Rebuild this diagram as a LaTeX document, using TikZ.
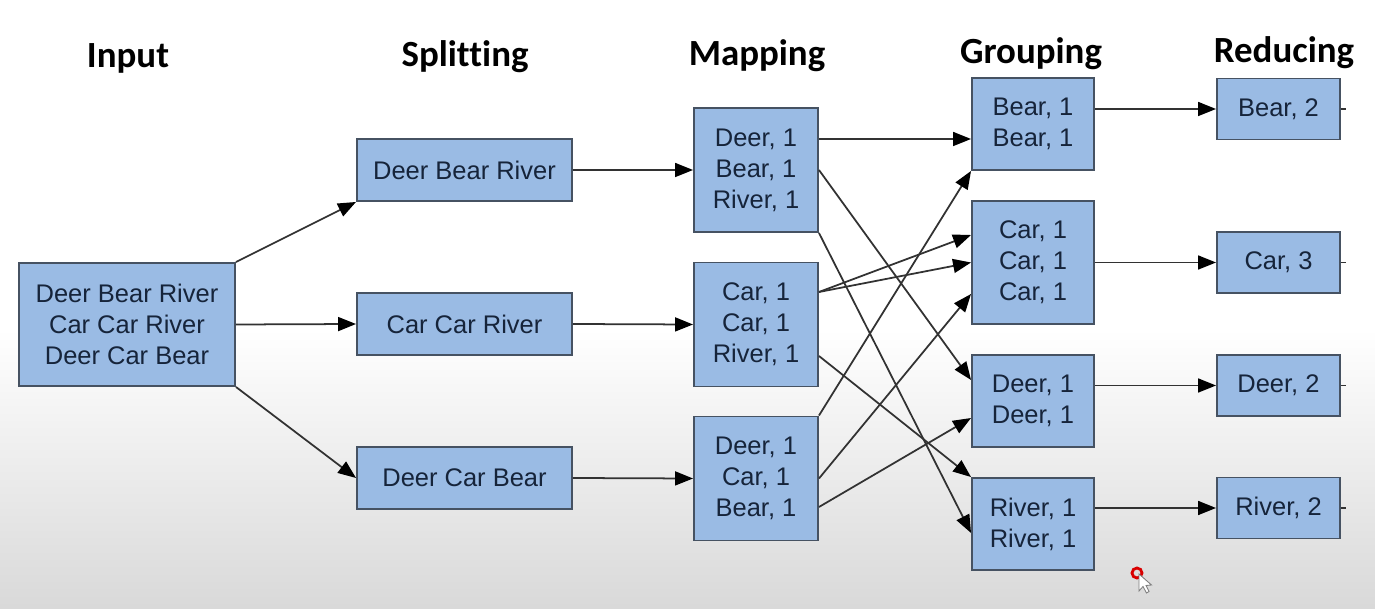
\documentclass[tikz,border=0pt]{standalone}
\usepackage{fontspec}
\setmainfont{Liberation Sans}
\newfontfamily\headfont[Ligatures=NoCommon]{Carlito}
\usetikzlibrary{arrows.meta}

\definecolor{boxblue}{RGB}{154,187,228}
\definecolor{boxline}{RGB}{70,82,98}
\definecolor{boxtext}{RGB}{22,36,58}
\definecolor{wirecol}{RGB}{50,50,50}

\tikzset{
  box/.style={draw=boxline, line width=1.1pt, fill=boxblue, text=boxtext, align=center,
    inner sep=0pt, font=\fontsize{14.5}{17.6}\selectfont},
  title/.style={font=\headfont\bfseries\fontsize{21}{25}\selectfont, anchor=base},
  wire/.style={draw=wirecol, line width=1pt, -{Triangle[length=3.6mm,width=2.8mm,color=black]}},
}

\begin{document}
\begin{tikzpicture}
        % background
        \useasboundingbox (0,0) rectangle (27.5,12.18);
        \fill[white] (0,0) rectangle (27.5,12.18);
        \shade[top color=white, bottom color=black!15] (0,0) rectangle (27.5,5.6);

        % headings
        \node[title] (tin) at (2.56,10.82) {Input};
        \node[title] (tsplit) at (9.30,10.84) {Splitting};
        \node[title] (tmap) at (15.14,10.86) {Mapping};
        \node[title] (tgroup) at (20.62,10.90) {Grouping};
        \node[title] (treduce) at (25.68,10.92) {Reducing};

        % input
        \node[box, minimum width=4.32cm, minimum height=2.46cm] (in) at (2.54,5.69)
            {Deer Bear River\\Car Car River\\Deer Car Bear};

        % splitting
        \foreach \n/\y/\t in {s1/8.78/Deer Bear River, s2/5.70/Car Car River, s3/2.62/Deer Car Bear}
            \node[box, minimum width=4.30cm, minimum height=1.24cm] (\n) at (9.29,\y) {\t};

        % mapping
        \node[box, minimum width=2.48cm, minimum height=2.48cm] (m1) at (15.12,8.78) {Deer, 1\\Bear, 1\\River, 1};
        \node[box, minimum width=2.48cm, minimum height=2.48cm] (m2) at (15.12,5.69) {Car, 1\\Car, 1\\River, 1};
        \node[box, minimum width=2.48cm, minimum height=2.48cm] (m3) at (15.12,2.61) {Deer, 1\\Car, 1\\Bear, 1};

        % grouping
        \node[box, minimum width=2.44cm, minimum height=1.84cm] (g1) at (20.66,9.70) {Bear, 1\\Bear, 1};
        \node[box, minimum width=2.44cm, minimum height=2.46cm] (g2) at (20.66,6.93) {Car, 1\\Car, 1\\Car, 1};
        \node[box, minimum width=2.44cm, minimum height=1.84cm] (g3) at (20.66,4.16) {Deer, 1\\Deer, 1};
        \node[box, minimum width=2.44cm, minimum height=1.84cm] (g4) at (20.66,1.70) {River, 1\\River, 1};

        % reducing
        \foreach \n/\y/\t in {r1/10.00/{Bear, 2}, r2/6.93/{Car, 3}, r3/4.47/{Deer, 2}, r4/2.02/{River, 2}}
            \node[box, minimum width=2.46cm, minimum height=1.22cm] (\n) at (25.57,\y) {\t};

        % input to splitting
        \draw[wire] (in.north east) -- (s1.south west);
        \draw[wire] (in.east) -- (s2.west);
        \draw[wire] (in.south east) -- (s3.west);

        % splitting to mapping
        \foreach \i in {1,2,3}
            \draw[wire] (s\i.east) -- (m\i.west);

        % mapping to grouping
        \draw[wire] ([yshift=0.62cm]m1.east) -- ([yshift=-0.30cm]g1.west);
        \draw[wire] (m1.east) -- ([yshift=0.42cm]g3.west);
        \draw[wire] (m1.south east) -- ([yshift=-0.18cm]g4.west);
        \draw[wire] ([yshift=0.65cm]m2.east) -- ([yshift=0.55cm]g2.west);
        \draw[wire] ([yshift=0.65cm]m2.east) -- (g2.west);
        \draw[wire] ([yshift=-0.63cm]m2.east) -- (g4.north west);
        \draw[wire] (m3.north east) -- (g1.south west);
        \draw[wire] (m3.east) -- ([yshift=-0.63cm]g2.west);
        \draw[wire] ([yshift=-0.57cm]m3.east) -- ([yshift=-0.34cm]g3.west);

        % grouping to reducing
        \foreach \i in {1,...,4} {
            \draw[wire] (g\i.east |- r\i.west) -- (r\i.west);
            \draw[wirecol, line width=0.9pt] (r\i.east) -- ++(0.1,0);
        }

        % cursor
        \draw[red!85!black, line width=1.6pt] (22.74,0.72) circle (0.1);
        \draw[gray, fill=white, line width=0.5pt] (22.78,0.70) -- ++(0,-0.34) -- ++(0.08,0.09)
            -- ++(0.07,-0.13) -- ++(0.05,0.03) -- ++(-0.06,0.12) -- ++(0.11,0.01) -- cycle;
\end{tikzpicture}
\end{document}
